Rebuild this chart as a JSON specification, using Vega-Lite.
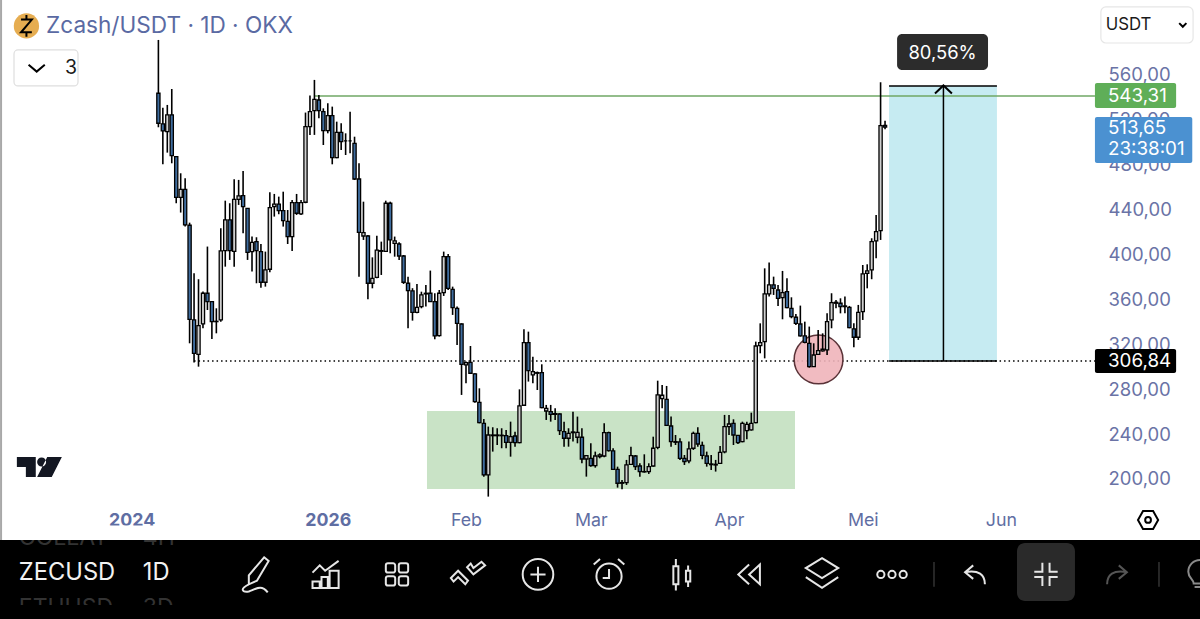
{"$schema":"https://vega.github.io/schema/vega-lite/v6.json","width":1200,"height":619,"padding":0,"autosize":"none","background":"#ffffff","config":{"view":{"stroke":null},"font":"Inter"},
"datasets":{"candles":[
{"d":"2025-11-24","o":543.7,"h":591.2,"l":513.4,"c":517},{"d":"2025-11-25","o":516.4,"h":530.9,"l":480.4,"c":510.1},{"d":"2025-11-26","o":509.5,"h":533.3,"l":490.8,"c":524.4},{"d":"2025-11-27","o":524.4,"h":547.5,"l":481.3,"c":488.1},{"d":"2025-11-28","o":487.2,"h":487.5,"l":445.7,"c":451},{"d":"2025-11-29","o":451,"h":472.4,"l":437.4,"c":458.1},{"d":"2025-11-30","o":458.1,"h":468,"l":424.9,"c":426.4},
{"d":"2025-12-01","o":426.1,"h":428.4,"l":320.9,"c":342.3},{"d":"2025-12-02","o":341.7,"h":383.3,"l":303.7,"c":312},{"d":"2025-12-03","o":311.1,"h":378,"l":300.1,"c":336.7},{"d":"2025-12-04","o":338.2,"h":367,"l":334.3,"c":365.5},{"d":"2025-12-05","o":365.5,"h":407.1,"l":350.6,"c":358.1},{"d":"2025-12-06","o":358.1,"h":358.7,"l":324.8,"c":340.2},{"d":"2025-12-07","o":340.2,"h":352.1,"l":329.8,"c":340.5},{"d":"2025-12-08","o":341.7,"h":423.4,"l":340.2,"c":403.2},{"d":"2025-12-09","o":403.5,"h":448,"l":389.2,"c":430.8},{"d":"2025-12-10","o":430.8,"h":445.7,"l":395.2,"c":403.5},{"d":"2025-12-11","o":402.9,"h":467,"l":389.2,"c":449.2},{"d":"2025-12-12","o":449.2,"h":466.5,"l":444.2,"c":452.2},{"d":"2025-12-13","o":452.5,"h":474.5,"l":418.9,"c":442.7},{"d":"2025-12-14","o":441.2,"h":441.2,"l":395.2,"c":402},{"d":"2025-12-15","o":402.6,"h":416,"l":384.8,"c":410.9},{"d":"2025-12-16","o":411.5,"h":415.4,"l":374.4,"c":403.5},{"d":"2025-12-17","o":402.6,"h":409.4,"l":370.5,"c":375.3},{"d":"2025-12-18","o":375.3,"h":402.6,"l":371.4,"c":386.3},{"d":"2025-12-19","o":386.9,"h":455.5,"l":384.2,"c":441.8},{"d":"2025-12-20","o":442.7,"h":454,"l":433.8,"c":445},{"d":"2025-12-21","o":445,"h":451.6,"l":435.9,"c":439.1},{"d":"2025-12-22","o":439.1,"h":456,"l":424.9,"c":430.2},{"d":"2025-12-23","o":429.6,"h":439.7,"l":409.4,"c":416},{"d":"2025-12-24","o":416,"h":448.6,"l":403.2,"c":446.3},{"d":"2025-12-25","o":446.3,"h":454,"l":435.3,"c":436.8},{"d":"2025-12-26","o":436.2,"h":448.6,"l":435.3,"c":446.3},{"d":"2025-12-27","o":446.6,"h":526.5,"l":445.7,"c":514},{"d":"2025-12-28","o":514,"h":541.6,"l":506.6,"c":527.3},{"d":"2025-12-29","o":528.2,"h":555.6,"l":506.6,"c":538.3},{"d":"2025-12-30","o":537.7,"h":542.2,"l":521.4,"c":528.2},{"d":"2025-12-31","o":527.3,"h":530.3,"l":497.6,"c":510.4},
{"d":"2026-01-01","o":510.4,"h":534.8,"l":508,"c":523.8},{"d":"2026-01-02","o":523.8,"h":531.8,"l":480.4,"c":486.3},{"d":"2026-01-03","o":486.3,"h":518.4,"l":485.8,"c":508.9},{"d":"2026-01-04","o":508.9,"h":516.9,"l":493.2,"c":500.6},{"d":"2026-01-05","o":501.2,"h":508,"l":488.7,"c":501.2},{"d":"2026-01-06","o":501.2,"h":527.3,"l":490.2,"c":501.2},{"d":"2026-01-07","o":499.1,"h":505,"l":466.4,"c":467.3},{"d":"2026-01-08","o":467.3,"h":481.3,"l":380.3,"c":419.8},{"d":"2026-01-09","o":416.5,"h":447.1,"l":413,"c":419.5},{"d":"2026-01-10","o":416.5,"h":417.4,"l":360.1,"c":374.4},{"d":"2026-01-11","o":374.4,"h":397.5,"l":369.9,"c":378.8},{"d":"2026-01-12","o":379.7,"h":416.8,"l":378.8,"c":404},{"d":"2026-01-13","o":403.5,"h":411.5,"l":381.8,"c":402.9},{"d":"2026-01-14","o":402.9,"h":448,"l":402.6,"c":445.7},{"d":"2026-01-15","o":445.7,"h":447.1,"l":401.1,"c":413},{"d":"2026-01-16","o":410,"h":416,"l":398.1,"c":412.1},{"d":"2026-01-17","o":409.4,"h":410.9,"l":395.1,"c":398.7},{"d":"2026-01-18","o":398.7,"h":399.6,"l":373.8,"c":375.3},{"d":"2026-01-19","o":374.4,"h":380.3,"l":334.3,"c":367.8},{"d":"2026-01-20","o":367.6,"h":370,"l":341.1,"c":348.5},{"d":"2026-01-21","o":348.5,"h":373.8,"l":347.6,"c":353},{"d":"2026-01-22","o":353.6,"h":366.9,"l":352.1,"c":364},{"d":"2026-01-23","o":364.9,"h":372.9,"l":353.6,"c":365.5},{"d":"2026-01-24","o":365.5,"h":385.7,"l":358,"c":358},{"d":"2026-01-25","o":358,"h":365.5,"l":324.5,"c":327.5},{"d":"2026-01-26","o":327.7,"h":368.4,"l":326.9,"c":365.5},{"d":"2026-01-27","o":366,"h":402.6,"l":363.1,"c":398.1},{"d":"2026-01-28","o":398.1,"h":400.5,"l":368.4,"c":369.9},{"d":"2026-01-29","o":369,"h":371.4,"l":346.2,"c":352.7},{"d":"2026-01-30","o":352.1,"h":353.6,"l":319.4,"c":338.7},{"d":"2026-01-31","o":338.1,"h":338.7,"l":274.9,"c":302.2},
{"d":"2026-02-01","o":301.6,"h":304.6,"l":285.3,"c":303.7},{"d":"2026-02-02","o":304,"h":318.5,"l":293.6,"c":294.2},{"d":"2026-02-03","o":293.6,"h":294.2,"l":268,"c":268.9},{"d":"2026-02-04","o":268.3,"h":280.8,"l":249.6,"c":250.2},{"d":"2026-02-05","o":249.6,"h":253.5,"l":202.1,"c":203.6},{"d":"2026-02-06","o":203.6,"h":246.7,"l":184.3,"c":239.2},{"d":"2026-02-07","o":238.6,"h":246.1,"l":224.4,"c":239.2},{"d":"2026-02-08","o":238.6,"h":245.2,"l":230.3,"c":239.2},{"d":"2026-02-09","o":239,"h":245.2,"l":227.4,"c":238.6},{"d":"2026-02-10","o":238.6,"h":243.7,"l":227.4,"c":232.7},{"d":"2026-02-11","o":232.7,"h":251.1,"l":219.9,"c":237.7},{"d":"2026-02-12","o":238.3,"h":242.2,"l":228.8,"c":232.4},{"d":"2026-02-13","o":232.4,"h":279.9,"l":231.8,"c":265.1},{"d":"2026-02-14","o":265.7,"h":333.4,"l":265.1,"c":321.5},{"d":"2026-02-15","o":321.5,"h":331.3,"l":286.8,"c":296.6},{"d":"2026-02-16","o":292.7,"h":309,"l":285.3,"c":295.7},{"d":"2026-02-17","o":294.8,"h":295.7,"l":279.3,"c":294.2},{"d":"2026-02-18","o":294.8,"h":302.2,"l":263,"c":263.6},{"d":"2026-02-19","o":260.6,"h":266,"l":252.6,"c":263},{"d":"2026-02-20","o":260,"h":266,"l":251.1,"c":257.6},{"d":"2026-02-21","o":258.2,"h":263,"l":252.6,"c":257.6},{"d":"2026-02-22","o":257.9,"h":258.5,"l":239.2,"c":243.1},{"d":"2026-02-23","o":242.2,"h":251.1,"l":228.8,"c":236.3},{"d":"2026-02-24","o":236.3,"h":245.2,"l":228.8,"c":240.7},{"d":"2026-02-25","o":241.3,"h":260,"l":233.3,"c":241.9},{"d":"2026-02-26","o":237.2,"h":255.6,"l":231.8,"c":241.6},{"d":"2026-02-27","o":237.2,"h":245.2,"l":214,"c":217.8},{"d":"2026-02-28","o":217.8,"h":221.4,"l":202.1,"c":220.8},
{"d":"2026-03-01","o":218.4,"h":231.8,"l":211,"c":211.9},{"d":"2026-03-02","o":211.9,"h":224.4,"l":210.1,"c":220.5},{"d":"2026-03-03","o":219.9,"h":222.9,"l":218.4,"c":221.4},{"d":"2026-03-04","o":220.5,"h":249.6,"l":219.3,"c":241.3},{"d":"2026-03-05","o":241.3,"h":242.2,"l":224.4,"c":225.3},{"d":"2026-03-06","o":225,"h":227.4,"l":208,"c":208.6},{"d":"2026-03-07","o":208.6,"h":211,"l":192.3,"c":196.2},{"d":"2026-03-08","o":196.2,"h":199.1,"l":190.8,"c":196.8},{"d":"2026-03-09","o":196.8,"h":217,"l":194.7,"c":212.5},{"d":"2026-03-10","o":213.1,"h":228.8,"l":212.5,"c":220.8},{"d":"2026-03-11","o":220.5,"h":221.4,"l":208,"c":211},{"d":"2026-03-12","o":211.6,"h":214,"l":202.1,"c":206.6},{"d":"2026-03-13","o":206.3,"h":222,"l":205.7,"c":206.6},{"d":"2026-03-14","o":206.6,"h":214,"l":204.5,"c":211},{"d":"2026-03-15","o":211.6,"h":237.7,"l":211,"c":227.4},{"d":"2026-03-16","o":228.2,"h":287.6,"l":226.5,"c":274.9},{"d":"2026-03-17","o":271.6,"h":283.8,"l":263,"c":274.6},{"d":"2026-03-18","o":271,"h":282.9,"l":247.2,"c":247.8},{"d":"2026-03-19","o":247.2,"h":255.6,"l":228.8,"c":233.3},{"d":"2026-03-20","o":233.3,"h":239.2,"l":230.3,"c":232.7},{"d":"2026-03-21","o":233,"h":236.3,"l":217,"c":218.4},{"d":"2026-03-22","o":218.4,"h":221.4,"l":212.5,"c":215.5},{"d":"2026-03-23","o":216.1,"h":233.3,"l":214,"c":226.8},{"d":"2026-03-24","o":227.4,"h":242.2,"l":225.9,"c":240.7},{"d":"2026-03-25","o":240.7,"h":246.1,"l":228.8,"c":231.2},{"d":"2026-03-26","o":230,"h":233.3,"l":217.6,"c":221.1},{"d":"2026-03-27","o":220.5,"h":224.4,"l":211,"c":214},{"d":"2026-03-28","o":213.4,"h":221.4,"l":208,"c":212.8},{"d":"2026-03-29","o":213.1,"h":217,"l":206.6,"c":212.5},{"d":"2026-03-30","o":214,"h":229.4,"l":213.4,"c":223.8},{"d":"2026-03-31","o":224.1,"h":257.1,"l":222.9,"c":246.7},
{"d":"2026-04-01","o":246.7,"h":257.1,"l":239.2,"c":249},{"d":"2026-04-02","o":249.6,"h":253.2,"l":230.3,"c":239.2},{"d":"2026-04-03","o":238.9,"h":239.2,"l":231.2,"c":232.4},{"d":"2026-04-04","o":233.3,"h":251.1,"l":232.7,"c":249.6},{"d":"2026-04-05","o":243.1,"h":251.1,"l":235.4,"c":248.7},{"d":"2026-04-06","o":243.7,"h":259.1,"l":243.1,"c":249.6},{"d":"2026-04-07","o":250.2,"h":322.4,"l":249.6,"c":318.5},{"d":"2026-04-08","o":318.8,"h":338.7,"l":312,"c":321.5},{"d":"2026-04-09","o":322.4,"h":387.7,"l":307.5,"c":364.9},{"d":"2026-04-10","o":364.9,"h":392.8,"l":362.5,"c":372.9},{"d":"2026-04-11","o":372.9,"h":380.3,"l":364,"c":369.9},{"d":"2026-04-12","o":368.4,"h":372.9,"l":354.2,"c":361},{"d":"2026-04-13","o":361.6,"h":385.4,"l":342.3,"c":366.1},{"d":"2026-04-14","o":367,"h":378.8,"l":352.1,"c":352.7},{"d":"2026-04-15","o":352.1,"h":361.9,"l":343.2,"c":344.7},{"d":"2026-04-16","o":344.1,"h":347.1,"l":337.3,"c":338.7},{"d":"2026-04-17","o":338.1,"h":354.5,"l":326.9,"c":327.5},{"d":"2026-04-18","o":327.5,"h":340.2,"l":320.9,"c":321.8},{"d":"2026-04-19","o":320.9,"h":335.8,"l":299.2,"c":300.1},{"d":"2026-04-20","o":300.1,"h":320.9,"l":300.1,"c":310.5},{"d":"2026-04-21","o":311.1,"h":332.8,"l":310.5,"c":314.4},{"d":"2026-04-22","o":314.1,"h":329.8,"l":313.5,"c":315.6},{"d":"2026-04-23","o":315,"h":347.6,"l":310.5,"c":340.2},{"d":"2026-04-24","o":341.7,"h":365.5,"l":334.3,"c":357.2},{"d":"2026-04-25","o":356.6,"h":359.5,"l":352.1,"c":357.5},{"d":"2026-04-26","o":356.6,"h":361,"l":347.6,"c":353.6},{"d":"2026-04-27","o":354.2,"h":362.5,"l":347.6,"c":353.6},{"d":"2026-04-28","o":353,"h":354.2,"l":334.3,"c":334.9},{"d":"2026-04-29","o":333.7,"h":338.7,"l":317.4,"c":326.3},{"d":"2026-04-30","o":326.3,"h":355.1,"l":323.9,"c":348.5},
{"d":"2026-05-01","o":349.1,"h":390.7,"l":341.7,"c":382.7},{"d":"2026-05-02","o":383.3,"h":391.3,"l":369.9,"c":385.4},{"d":"2026-05-03","o":386.3,"h":414.5,"l":378,"c":411.5},{"d":"2026-05-04","o":412.1,"h":435.3,"l":396.6,"c":420.4},{"d":"2026-05-05","o":421.3,"h":553.5,"l":413,"c":514.9},{"d":"2026-05-06","o":515,"h":519.3,"l":511.6,"c":513.65}
],
"icons":[
{"d":"2025-12-15T21:36:00Z","p":115,"icon":"pen"},{"d":"2025-12-31T14:24:00Z","p":115,"icon":"chart"},{"d":"2026-01-16T12:30:00Z","p":115,"icon":"grid"},{"d":"2026-02-01T10:48:00Z","p":115,"icon":"check"},{"d":"2026-02-17T03:36:00Z","p":115,"icon":"plus"},{"d":"2026-03-05T02:00:00Z","p":115,"icon":"alarm"},{"d":"2026-03-21T10:48:00Z","p":115,"icon":"candle"},{"d":"2026-04-05T17:00:00Z","p":115,"icon":"rewind"},{"d":"2026-04-21T20:40:00Z","p":115,"icon":"layers"},{"d":"2026-05-07T13:30:00Z","p":115,"icon":"dots"},{"d":"2026-05-26T04:20:00Z","p":115,"icon":"undo"},{"d":"2026-06-11T02:24:00Z","p":115,"icon":"collapse"},{"d":"2026-06-27T00:40:00Z","p":115,"icon":"redo"},{"d":"2026-07-15T15:36:00Z","p":115,"icon":"bulb"},
{"d":"2025-10-27T16:48:00Z","p":566.2,"icon":"chevron"},{"d":"2026-07-11T19:00:00Z","p":604.6,"icon":"chevronSmall"},{"d":"2026-05-19T02:24:00Z","p":547.1,"icon":"arrow"},{"d":"2026-07-04T00:00:00Z","p":163.5,"icon":"hex"},{"d":"2025-10-25T09:36:00Z","p":603.7,"icon":"zec"}
]},
"encoding":{
"x":{"field":"d","type":"temporal","title":null,"scale":{"type":"utc","padding":0,"domain":["2025-10-19T11:17:00Z","2026-07-15T15:36:00Z"]},"axis":{"orient":"bottom","offset":-99,"domain":false,"ticks":false,"grid":false,"tickSize":0,"labelPadding":0,"labelBaseline":"middle","labelFont":"Inter","labelFontSize":17.8,"labelOverlap":false,"labelFlush":false,"values":["2025-11-18T00:00:00Z","2026-01-01T00:00:00Z","2026-02-01T00:00:00Z","2026-03-01T00:00:00Z","2026-04-01T00:00:00Z","2026-05-01T00:00:00Z","2026-06-01T00:00:00Z"],"labelExpr":"utcmonth(datum.value)==10?'2024':utcmonth(datum.value)==0?'2026':['','Feb','Mar','Apr','Mei','Jun'][utcmonth(datum.value)]","labelColor":"#5f6ea3","labelFontWeight":{"condition":{"test":"utcmonth(datum.value)==10||utcmonth(datum.value)==0","value":700},"value":400}}},
"y":{"field":"p","type":"quantitative","title":null,"scale":{"domain":[75.25,626.8],"zero":false,"nice":false},"axis":{"orient":"right","offset":-92,"domain":false,"ticks":false,"grid":false,"tickSize":0,"labelPadding":0,"labelAlign":"left","labelBaseline":"middle","labelFont":"Inter","labelFontSize":18.5,"labelColor":"#6a73a6","labelOverlap":false,"labelFlush":false,"values":[200,240,280,320,360,400,440,480,520,560],"labelExpr":"replace(format(datum.value,'.2f'),'.',',')"}}
},
"layer":[
{"data":{"values":[{"d":"2026-01-23T06:00:00Z","d2":"2026-04-15T19:12:00Z","p":260.6,"p2":191.1}]},"mark":{"type":"rect","color":"#c9e3c6"},"encoding":{"x2":{"field":"d2"},"y2":{"field":"p2"}}},
{"data":{"values":[{"d":"2026-05-06T21:36:00Z","d2":"2026-05-31T02:24:00Z","p":550.2,"p2":305.2}]},"mark":{"type":"rect","color":"#c6ebf2"},"encoding":{"x2":{"field":"d2"},"y2":{"field":"p2"}}},
{"data":{"values":[{"d":"2025-12-02T00:00:00Z","d2":"2026-06-22T02:00:00Z","p":305.2}]},"mark":{"type":"rule","color":"#000000","strokeWidth":1.5,"strokeDash":[1.5,3]},"encoding":{"x2":{"field":"d2"}}},
{"data":{"values":[{"d":"2025-12-29T00:00:00Z","d2":"2026-06-22T02:00:00Z","p":541.3}]},"mark":{"type":"rule","color":"#6fa765","strokeWidth":1.5},"encoding":{"x2":{"field":"d2"}}},
{"data":{"values":[{"d":"2026-04-21T02:00:00Z","p":306.5}]},"mark":{"type":"point","shape":"circle","size":2376,"filled":true,"fill":"#f0b4ba","fillOpacity":0.9,"stroke":"#5a3338","strokeWidth":1.5,"opacity":1}},
{"data":{"name":"candles"},"mark":{"type":"rule","color":"#000000","strokeWidth":1.6},"encoding":{"y":{"field":"h","type":"quantitative","title":null,"scale":{"domain":[75.25,626.8],"zero":false,"nice":false},"axis":{"orient":"right","offset":-92,"domain":false,"ticks":false,"grid":false,"tickSize":0,"labelPadding":0,"labelAlign":"left","labelBaseline":"middle","labelFont":"Inter","labelFontSize":18.5,"labelColor":"#6a73a6","labelOverlap":false,"labelFlush":false,"values":[200,240,280,320,360,400,440,480,520,560],"labelExpr":"replace(format(datum.value,'.2f'),'.',',')"}},"y2":{"field":"l"}}},
{"data":{"name":"candles"},"mark":{"type":"bar","size":3.2,"stroke":"#000000","strokeWidth":1.3},"encoding":{"y":{"field":"o","type":"quantitative","title":null,"scale":{"domain":[75.25,626.8],"zero":false,"nice":false},"axis":{"orient":"right","offset":-92,"domain":false,"ticks":false,"grid":false,"tickSize":0,"labelPadding":0,"labelAlign":"left","labelBaseline":"middle","labelFont":"Inter","labelFontSize":18.5,"labelColor":"#6a73a6","labelOverlap":false,"labelFlush":false,"values":[200,240,280,320,360,400,440,480,520,560],"labelExpr":"replace(format(datum.value,'.2f'),'.',',')"}},"y2":{"field":"c"},"fill":{"condition":{"test":"datum.c<datum.o","value":"#3f6d9f"},"value":"#cfcfcf"}}},
{"data":{"values":[{"d":"2026-05-06T21:36:00Z","d2":"2026-05-31T02:24:00Z","p":550.2},{"d":"2026-05-06T21:36:00Z","d2":"2026-05-31T02:24:00Z","p":305.2}]},"mark":{"type":"rule","color":"#000000","strokeWidth":1.5},"encoding":{"x2":{"field":"d2"}}},
{"data":{"values":[{"d":"2026-05-19T02:24:00Z","p":550.2,"p2":305.2}]},"mark":{"type":"rule","color":"#000000","strokeWidth":1.5},"encoding":{"y2":{"field":"p2"}}},
{"data":{"values":[{"d":"2026-05-08T16:48:00Z","d2":"2026-05-29T02:24:00Z","p":596.5,"p2":564.4}]},"mark":{"type":"rect","color":"#2c2c2c","cornerRadius":5},"encoding":{"x2":{"field":"d2"},"y2":{"field":"p2"}}},
{"data":{"values":[{"d":"2026-05-18T21:36:00Z","p":579.6,"t":"80,56%"}]},"mark":{"type":"text","color":"#ffffff","font":"Inter","fontSize":18.4,"align":"center","baseline":"middle"},"encoding":{"text":{"field":"t"}}},
{"data":{"values":[{"d":"2026-06-22T02:00:00Z","d2":"2026-07-10T07:00:00Z","p":552.9,"p2":530.6}]},"mark":{"type":"rect","color":"#5fae58","cornerRadius":2},"encoding":{"x2":{"field":"d2"},"y2":{"field":"p2"}}},
{"data":{"values":[{"d":"2026-06-22T02:00:00Z","d2":"2026-07-13T22:00:00Z","p":522.6,"p2":481.6}]},"mark":{"type":"rect","color":"#4b91d1","cornerRadius":2},"encoding":{"x2":{"field":"d2"},"y2":{"field":"p2"}}},
{"data":{"values":[{"d":"2026-06-22T02:00:00Z","d2":"2026-07-10T07:00:00Z","p":315.8,"p2":294.5}]},"mark":{"type":"rect","color":"#000000","cornerRadius":2},"encoding":{"x2":{"field":"d2"},"y2":{"field":"p2"}}},
{"data":{"values":[{"d":"2026-06-25T00:00:00Z","p":541.3,"t":"543,31"},{"d":"2026-06-25T00:00:00Z","p":512.8,"t":"513,65"},{"d":"2026-06-25T00:00:00Z","p":494,"t":"23:38:01"},{"d":"2026-06-25T00:00:00Z","p":305.2,"t":"306,84"}]},"mark":{"type":"text","color":"#ffffff","font":"Inter","fontSize":18.8,"align":"left","baseline":"middle"},"encoding":{"text":{"field":"t"}}},
{"data":{"values":[{"d":"2025-10-19T11:17:00Z","d2":"2026-07-15T15:36:00Z","p":145.6,"p2":75.25}]},"mark":{"type":"rect","color":"#000000"},"encoding":{"x2":{"field":"d2"},"y2":{"field":"p2"}}},
{"data":{"values":[{"d":"2025-10-23T16:48:00Z","p":147.5,"t":"COLLAT"},{"d":"2025-10-23T16:48:00Z","p":85,"t":"ETHUSD"},{"d":"2025-11-20T12:00:00Z","p":147.5,"t":"4H"},{"d":"2025-11-20T12:00:00Z","p":85,"t":"3D"}]},"mark":{"type":"text","color":"#333333","font":"Inter","fontSize":23,"align":"left","baseline":"middle"},"encoding":{"text":{"field":"t"}}},
{"data":{"values":[{"d":"2025-10-19T11:17:00Z","d2":"2025-12-03T07:00:00Z","p":158.5,"p2":145.6}]},"mark":{"type":"rect","color":"#ffffff"},"encoding":{"x2":{"field":"d2"},"y2":{"field":"p2"}}},
{"data":{"values":[{"d":"2025-10-19T11:17:00Z","d2":"2025-12-03T07:00:00Z","p":87.7,"p2":75.25}]},"mark":{"type":"rect","color":"#000000"},"encoding":{"x2":{"field":"d2"},"y2":{"field":"p2"}}},
{"data":{"values":[{"d":"2025-10-23T16:48:00Z","p":116.2,"t":"ZECUSD"},{"d":"2025-11-20T12:00:00Z","p":116.2,"t":"1D"}]},"mark":{"type":"text","color":"#f2f2f2","font":"Inter","fontSize":23.7,"align":"left","baseline":"middle"},"encoding":{"text":{"field":"t"}}},
{"data":{"values":[{"d":"2026-06-04T14:24:00Z","d2":"2026-06-17T14:24:00Z","p":143,"p2":91.3}]},"mark":{"type":"rect","color":"#2a2a2a","cornerRadius":8},"encoding":{"x2":{"field":"d2"},"y2":{"field":"p2"}}},
{"data":{"values":[{"d":"2026-05-16T23:30:00Z","p":126,"p2":104},{"d":"2026-07-06T10:48:00Z","p":126,"p2":104}]},"mark":{"type":"rule","color":"#333333","strokeWidth":1.5},"encoding":{"y2":{"field":"p2"}}},
{"data":{"values":[{"d":"2025-10-19T17:00:00Z","p":626.8,"p2":145.6}]},"mark":{"type":"rule","color":"#a8a8a8","strokeWidth":2},"encoding":{"y2":{"field":"p2"}}},
{"data":{"values":[{"d":"2025-10-22T14:38:00Z","d2":"2025-11-05T23:15:00Z","p":582.3,"p2":550.2}]},"mark":{"type":"rect","fill":"#ffffff","stroke":"#dedede","strokeWidth":1.2,"cornerRadius":4},"encoding":{"x2":{"field":"d2"},"y2":{"field":"p2"}}},
{"data":{"values":[{"d":"2026-06-23T10:00:00Z","d2":"2026-07-14T02:24:00Z","p":620.6,"p2":588.5}]},"mark":{"type":"rect","fill":"#ffffff","stroke":"#e6e6e6","strokeWidth":1.2,"cornerRadius":5},"encoding":{"x2":{"field":"d2"},"y2":{"field":"p2"}}},
{"data":{"values":[{"d":"2025-11-03T01:00:00Z","p":566.2,"t":"3"}]},"mark":{"type":"text","color":"#1a1a1a","font":"Inter","fontSize":19.5,"align":"left","baseline":"middle"},"encoding":{"text":{"field":"t"}}},
{"data":{"values":[{"d":"2026-06-24T12:00:00Z","p":604.6,"t":"USDT"}]},"mark":{"type":"text","color":"#1a1a1a","font":"Inter","fontSize":16.8,"align":"left","baseline":"middle"},"encoding":{"text":{"field":"t"}}},
{"data":{"values":[{"d":"2025-10-29T19:12:00Z","p":603.7,"t":"Zcash/USDT · 1D · OKX"}]},"mark":{"type":"text","color":"#5a6aa3","font":"Inter","fontSize":22.6,"align":"left","baseline":"middle"},"encoding":{"text":{"field":"t"}}},
{"data":{"values":[{"d":"2025-10-25T09:36:00Z","p":603.7}]},"mark":{"type":"point","shape":"circle","size":640,"filled":true,"fill":"#e6ad51","stroke":null,"opacity":1}},
{"data":{"values":[{"d":"2025-10-28T07:12:00Z","p":210.7}]},"mark":{"type":"point","shape":"M-1,-.44 H-.16 V.44 H-.6 V0 H-1 Z M-.1,-.22 a.2,.2 0 1 0 .4,0 a.2,.2 0 1 0 -.4,0 Z M.35,-.44 H1 L.55,.44 H-.1 Z","size":2025,"filled":true,"fill":"#131722","stroke":null,"opacity":1}},
{"data":{"name":"icons"},"mark":{"type":"point","filled":false,"size":1296,"strokeWidth":2,"opacity":1,"clip":true},"encoding":{"shape":{"field":"icon","type":"nominal","legend":null,"scale":{"domain":["pen","chart","grid","check","plus","alarm","candle","rewind","layers","dots","undo","collapse","redo","bulb","chevron","chevronSmall","arrow","hex","zec"],"range":[
"M.45,-.95 L.7,-.75 L.05,.35 L-.4,.55 L-.4,.05 Z M-.4,.55 C-.9,.8 -.8,1 -.4,.95 C0,.8 .3,.55 .65,1",
"M-.75,-.1 L-.35,-.5 L-.05,-.2 L.7,-.75 M-.75,.75 H-.35 V.4 H-.75 Z M-.25,.75 H.1 V.15 H-.25 Z M.2,.75 H.7 V-.2 H.2 Z",
"M-.5,-.62 h.28 a.12,.12 0 0 1 .12,.12 v.28 a.12,.12 0 0 1 -.12,.12 h-.28 a.12,.12 0 0 1 -.12,-.12 v-.28 a.12,.12 0 0 1 .12,-.12 Z M.22,-.62 h.28 a.12,.12 0 0 1 .12,.12 v.28 a.12,.12 0 0 1 -.12,.12 h-.28 a.12,.12 0 0 1 -.12,-.12 v-.28 a.12,.12 0 0 1 .12,-.12 Z M-.5,.1 h.28 a.12,.12 0 0 1 .12,.12 v.28 a.12,.12 0 0 1 -.12,.12 h-.28 a.12,.12 0 0 1 -.12,-.12 v-.28 a.12,.12 0 0 1 .12,-.12 Z M.22,.1 h.28 a.12,.12 0 0 1 .12,.12 v.28 a.12,.12 0 0 1 -.12,.12 h-.28 a.12,.12 0 0 1 -.12,-.12 v-.28 a.12,.12 0 0 1 .12,-.12 Z",
"M-.95,.2 L-.55,-.2 L0,.35 L-.15,.55 L-.55,.15 L-.8,.4 Z M-.05,-.4 L.15,-.6 L.3,-.35 L.75,-.7 L.95,-.5 L.3,0 Z",
"M-.85,0 a.85,.85 0 1 0 1.7,0 a.85,.85 0 1 0 -1.7,0 Z M-.42,0 H.42 M0,-.42 V.42",
"M-.7,.1 a.7,.7 0 1 0 1.4,0 a.7,.7 0 1 0 -1.4,0 Z M0,-.3 V.2 H-.35 M-.85,-.55 L-.5,-.85 M.85,-.55 L.5,-.85",
"M-.48,-.45 H-.2 V.55 H-.48 Z M-.34,-.85 V-.45 M-.34,.55 V.9 M.22,-.2 H.46 V.4 H.22 Z M.34,-.5 V-.2 M.34,.4 V.7",
"M-.05,-.55 L-.65,0 L-.05,.55 M.55,-.55 L-.05,0 L.55,.55 Z",
"M0,-.9 L.9,-.35 L0,.2 L-.9,-.35 Z M-.9,.15 L0,.75 L.9,.15",
"M-.82,0 a.2,.2 0 1 0 .4,0 a.2,.2 0 1 0 -.4,0 Z M-.2,0 a.2,.2 0 1 0 .4,0 a.2,.2 0 1 0 -.4,0 Z M.42,0 a.2,.2 0 1 0 .4,0 a.2,.2 0 1 0 -.4,0 Z",
"M-.1,-.5 L-.55,-.12 L-.1,.25 M-.55,-.12 C.2,-.25 .55,0 .55,.55",
"M-.2,-.65 V-.15 H-.65 M.2,-.65 V-.15 H.65 M-.65,.15 H-.2 V.65 M.65,.15 H.2 V.65",
"M.1,-.5 L.55,-.12 L.1,.25 M.55,-.12 C-.2,-.25 -.55,0 -.55,.55",
"M-.65,-.15 a.65,.65 0 1 1 1.3,0 C.65,.2 .35,.3 .35,.5 H-.35 C-.35,.3 -.65,.2 -.65,-.15 Z M-.3,.7 H.3",
"M-.45,-.18 L0,.2 L.45,-.18",
"M-.2,-.1 L0,.1 L.2,-.1",
"M-.47,.22 L0,-.22 L.47,.22",
"M-.56,0 L-.28,-.5 H.28 L.56,0 L.28,.5 H-.28 Z M-.16,0 a.16,.16 0 1 0 .32,0 a.16,.16 0 1 0 -.32,0 Z",
"M-.3,-.35 H.3 L-.3,.35 H.3 M0,-.6 V-.35 M0,.35 V.6"]}},
"stroke":{"condition":[{"test":"indexof(['chevron','chevronSmall','arrow','hex','zec'],datum.icon)>=0","value":"#000000"},{"test":"datum.icon=='redo'","value":"#555555"},{"test":"datum.icon=='bulb'","value":"#8a8a8a"}],"value":"#e6e6e6"}}}
]}
